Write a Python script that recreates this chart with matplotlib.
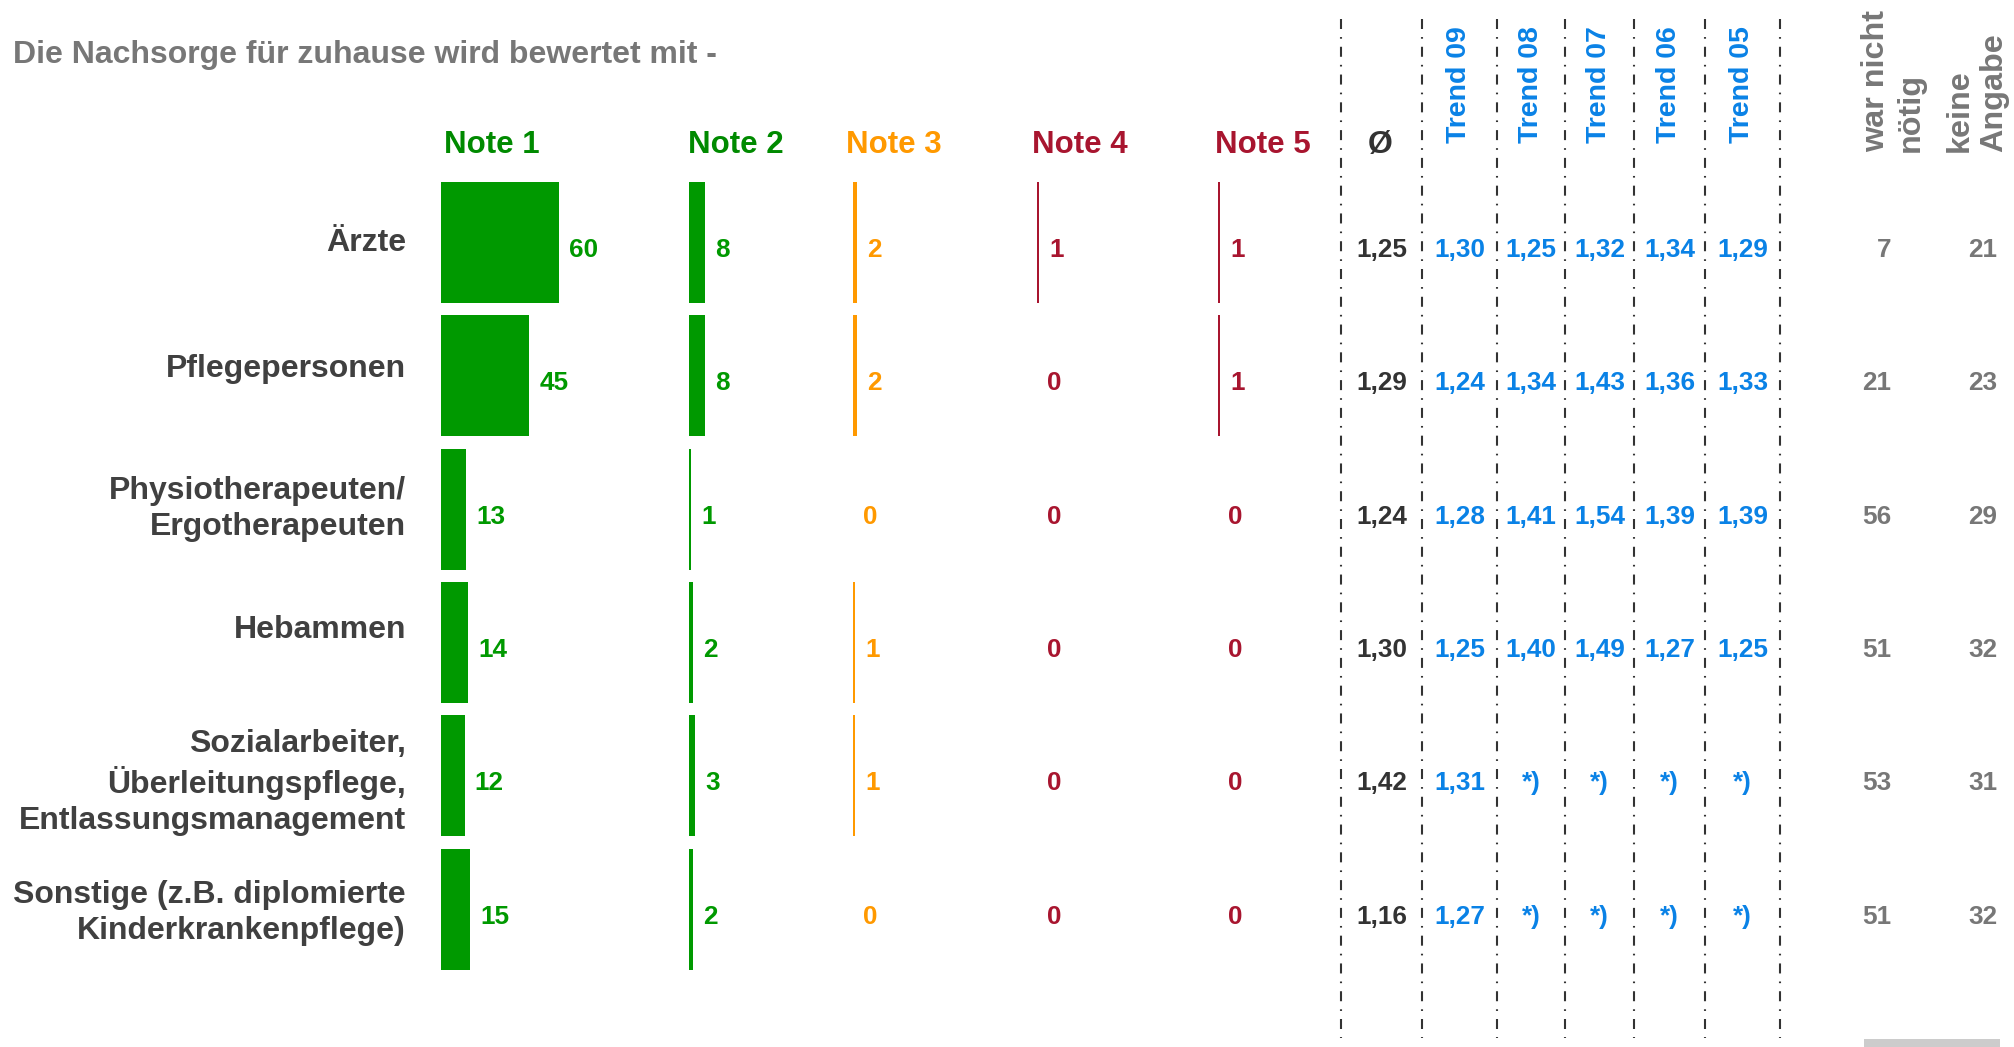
import matplotlib.pyplot as plt
from matplotlib.patches import Rectangle

plt.rcParams['font.family'] = ['Liberation Sans', 'DejaVu Sans']
plt.rcParams['font.weight'] = 'bold'
plt.rcParams['lines.scale_dashes'] = False

# data
categories = ['Ärzte', 'Pflegepersonen', 'Physiotherapeuten/\nErgotherapeuten', 'Hebammen',
              'Sozialarbeiter,\nÜberleitungspflege,\nEntlassungsmanagement',
              'Sonstige (z.B. diplomierte\nKinderkrankenpflege)']
note1 = [60, 45, 13, 14, 12, 15]
note2 = [8, 8, 1, 2, 3, 2]
note3 = [2, 2, 0, 1, 1, 0]
note4 = [1, 0, 0, 0, 0, 0]
note5 = [1, 1, 0, 0, 0, 0]
note_labels = ['Note 1', 'Note 2', 'Note 3', 'Note 4', 'Note 5']
avg = [1.25, 1.29, 1.24, 1.30, 1.42, 1.16]
trend_labels = ['Trend 09', 'Trend 08', 'Trend 07', 'Trend 06', 'Trend 05']
trend09 = [1.30, 1.24, 1.28, 1.25, 1.31, 1.27]
trend08 = [1.25, 1.34, 1.41, 1.40, None, None]
trend07 = [1.32, 1.43, 1.54, 1.49, None, None]
trend06 = [1.34, 1.36, 1.39, 1.27, None, None]
trend05 = [1.29, 1.33, 1.39, 1.25, None, None]
nicht_noetig = [7, 21, 56, 51, 53, 51]
keine_angabe = [21, 23, 29, 32, 31, 32]

# colours
GREEN = '#009900'
GREEN_TXT = '#008a00'
ORANGE = '#ff9900'
RED = '#a8152f'
BLUE = '#0a82e6'
GRAY = '#777777'
DARK = '#333333'
LABEL = '#404040'

def fmt(v):
    return '*)' if v is None else f'{v:.2f}'.replace('.', ',')

fig = plt.figure(figsize=(20.15, 10.47), dpi=100)
ax = fig.add_axes([0, 0, 1, 1])
ax.set_xlim(0, 2015)
ax.set_ylim(1047, 0)
ax.axis('off')

# layout (pixels)
n = len(categories)
pitch = 133.33
bar_h = 121
bar_top = [182 + i * pitch for i in range(n)]
row_y = [250 + i * pitch for i in range(n)]
scale = 1.96
col_x = [441, 689, 853, 1037, 1218]
head_x = [444, 688, 846, 1032, 1215]
label_shift = [-7, -14, -8, -20, -1, -4]

ax.text(13, 55, 'Die Nachsorge für zuhause wird bewertet mit -', fontsize=23,
        color=GRAY, ha='left', va='center')

for i, cat in enumerate(categories):
    ax.text(406, row_y[i] + label_shift[i], cat, fontsize=23, color=LABEL,
            ha='right', va='center', multialignment='right', linespacing=1.25)

notes = [note1, note2, note3, note4, note5]
bar_cols = [GREEN, GREEN, ORANGE, RED, RED]
txt_cols = [GREEN, GREEN, ORANGE, RED, RED]
head_cols = [GREEN_TXT, GREEN_TXT, ORANGE, RED, RED]
for k, vals in enumerate(notes):
    ax.text(head_x[k], 145, note_labels[k], fontsize=22.5, color=head_cols[k],
            ha='left', va='center')
    widths = [v * scale for v in vals]
    ax.barh([t + bar_h / 2 for t in bar_top], widths, left=col_x[k], height=bar_h,
            color=bar_cols[k], linewidth=0)
    for i, v in enumerate(vals):
        ax.text(col_x[k] + widths[i] + 10, row_y[i], str(v), fontsize=18.8,
                color=txt_cols[k], ha='left', va='center')

# dashed separators
sep_x = [1341, 1422, 1497, 1565, 1634, 1705, 1780]
ax.vlines(sep_x, 19, 1038, colors=DARK, linewidth=1.5,
          linestyles=[(0, (7.2, 5.8, 1.2, 5.8))])

# average column
ax.text(1380, 145, 'Ø', fontsize=23, color=DARK, ha='center', va='center')
for i, v in enumerate(avg):
    ax.text(1382, row_y[i], fmt(v), fontsize=18.8, color=DARK, ha='center', va='center')

# trend columns
trends = [trend09, trend08, trend07, trend06, trend05]
for k, vals in enumerate(trends):
    cx = (sep_x[k + 1] + sep_x[k + 2]) / 2
    ax.text(cx, 143, trend_labels[k], fontsize=20.5, color=BLUE, rotation=90,
            ha='center', va='bottom')
    for i, v in enumerate(vals):
        ax.text(cx, row_y[i], fmt(v), fontsize=18.8, color=BLUE, ha='center', va='center')

# not needed / no answer
ax.text(1893, 152, 'war nicht\nnötig', fontsize=23.3, color=GRAY, rotation=90,
        ha='center', va='bottom', multialignment='left', linespacing=1.2)
ax.text(1977, 152, 'keine\nAngabe', fontsize=23.3, color=GRAY, rotation=90,
        ha='center', va='bottom', multialignment='left', linespacing=1.2)
for i in range(n):
    ax.text(1891, row_y[i], str(nicht_noetig[i]), fontsize=18.8, color=GRAY,
            ha='right', va='center')
    ax.text(1997, row_y[i], str(keine_angabe[i]), fontsize=18.8, color=GRAY,
            ha='right', va='center')

ax.add_patch(Rectangle((1864, 1039), 136, 8, color='#cccccc', linewidth=0))

fig.savefig('out.png', dpi=100)
